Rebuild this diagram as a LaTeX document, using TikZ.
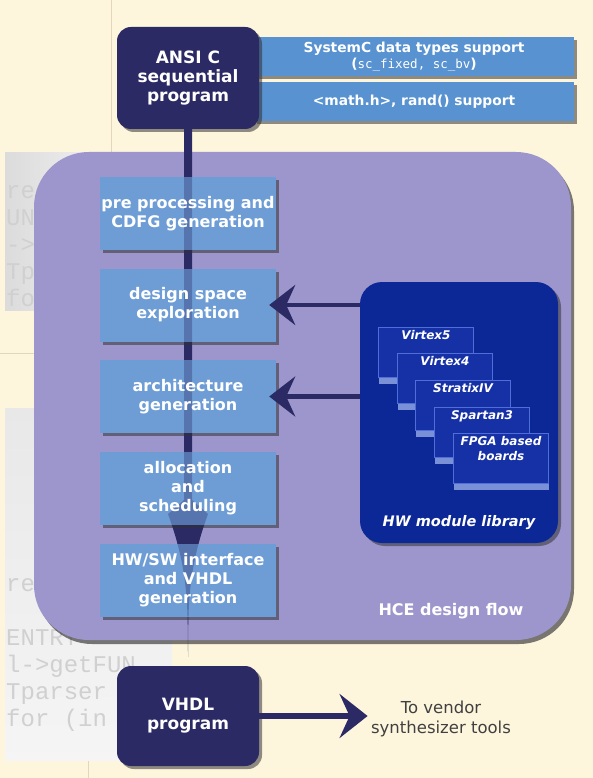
\documentclass[tikz,border=0pt]{standalone}
\usepackage{fontspec}
\setmainfont{DejaVu Sans}
\setmonofont{DejaVu Sans Mono}
\newfontfamily\codefont{Liberation Mono}
\usetikzlibrary{positioning, shadows, arrows.meta}

\definecolor{cream}{RGB}{253,246,221}
\definecolor{pagelines}{RGB}{224,215,190}
\definecolor{codegray}{RGB}{208,208,208}
\definecolor{navy}{RGB}{44,42,100}
\definecolor{stripblue}{RGB}{88,146,208}
\definecolor{flowblue}{RGB}{110,157,214}
\definecolor{hcepurple}{RGB}{157,150,204}
\definecolor{libblue}{RGB}{12,40,150}
\definecolor{cardblue}{RGB}{22,48,165}
\definecolor{cardrim}{RGB}{80,110,215}
\definecolor{cardglow}{RGB}{150,170,232}

% flow line and its head, from the C program down to the VHDL program
\newcommand\flowshape{([xshift=-4pt]ftop) -- ([xshift=-4pt]hback) -- (hleft)
	to[out=-70, in=90] (htip) to[out=90, in=-110] (hright)
	-- ([xshift=4pt]hback) -- ([xshift=4pt]ftop) -- cycle}

\begin{document}
\begin{tikzpicture}[x=1pt, y=-1pt,
		every node/.style={align=center, text=white, font=\bfseries},
		boxshadow/.style={drop shadow={shadow xshift=3pt, shadow yshift=-3pt, opacity=.55, fill=black!80}},
		codetext/.style={anchor=north west, inner sep=0pt, align=left, text=codegray, font=\codefont\fontsize{24}{27}\selectfont},
		hcebox/.style={fill=hcepurple, rounded corners=55pt, minimum width=537pt, minimum height=488pt,
			drop shadow={shadow xshift=3pt, shadow yshift=-4pt, opacity=.7, fill=black!75}},
		darkbox/.style={fill=navy, rounded corners=14pt, minimum width=142pt, minimum height=102pt,
			font=\fontsize{17}{19}\selectfont\bfseries, boxshadow},
		strip/.style={fill=stripblue, minimum width=320pt, minimum height=39pt, inner sep=1pt,
			font=\fontsize{13.8}{15.5}\selectfont\bfseries, boxshadow},
		flowbox/.style={fill=flowblue, minimum width=176pt, minimum height=73pt, inner xsep=1pt,
			font=\fontsize{16}{19}\selectfont\bfseries, boxshadow,
			path picture={\fill[navy, opacity=.35] \flowshape;}},
		libbox/.style={fill=libblue, rounded corners=22pt, minimum width=198pt, minimum height=261pt, boxshadow},
		card/.style={anchor=north west, fill=cardblue, draw=cardrim, line width=1pt, minimum width=95pt, minimum height=50pt,
			drop shadow={shadow xshift=0pt, shadow yshift=-6pt, opacity=.8, fill=cardglow}},
		cardtext/.style={anchor=north, inner sep=3pt, font=\fontsize{12}{15}\selectfont\bfseries\itshape},
		libarrow/.style={draw=navy, line width=4.5pt, -{Stealth[length=26pt, width=40pt, inset=9pt]}}]

	\useasboundingbox (0,0) rectangle (593,778);
	% Page
	\fill[cream] (0,0) rectangle (593,778);
	\draw[pagelines] (111,0) -- (111,152);
	\draw[pagelines] (0,353) -- (40,353);
	\draw[pagelines] (88,760) -- (88,778);
	% Code panels behind
	\begin{scope}
		\clip (5,153) rectangle (150,310);
		\fill[left color=black!14, right color=black!2] (5,153) rectangle (150,310);
		\node[codetext] (codetop) at (6,185) {rec\\UNC\\->g\\Tpa\\for};
	\end{scope}
	\begin{scope}
		\clip (5,408) rectangle (172,760);
		\fill[top color=black!9, bottom color=black!4] (5,408) rectangle (172,760);
		\node[codetext] (codebot) at (6,578) {rec\\[27pt]ENTRY\\l->getFUN\\Tparser\\for (in};
	\end{scope}

	% HCE design flow
	\node[hcebox] (hce) at (302.5,396) {};
	% Input
	\node[strip] (sctypes) at (414,56.5) {SystemC data types support\\(\texttt{\mdseries\fontsize{12.5}{15}\selectfont sc\_fixed, sc\_bv})};
	\node[strip] (mathsup) at (414,102) {<math.h>, rand() support};
	\node[darkbox] (ansi) at (188,78) {ANSI C\\sequential\\program};
	% Output
	\node[darkbox, minimum height=100pt] (vhdl) at (188,716) {VHDL\\program};

	% Flow line
	\coordinate (ftop) at (ansi.south);
	\coordinate (hback) at (188,500);
	\coordinate (hleft) at (168,514);
	\coordinate (hright) at (208,514);
	\coordinate (htip) at ([yshift=9pt]vhdl.north);
	\fill[navy] \flowshape;

	% Steps
	\node[flowbox] (prep)  at (188,213.5) {pre processing and\\CDFG generation};
	\node[flowbox] (dse)   at (188,305)   {design space\\exploration};
	\node[flowbox] (arch)  at (188,396.5) {architecture\\generation};
	\node[flowbox] (alloc) at (188,488.5) {allocation\\and\\scheduling};
	\node[flowbox] (hwsw)  at (188,580)   {HW/SW interface\\and VHDL\\generation};

	% HW module library
	\node[libbox] (lib) at (459,412.5) {};
	\node[card, label={[cardtext]north:Virtex5}]   (virtex5)  at (378,327) {};
	\node[card, label={[cardtext]north:Virtex4}]   (virtex4)  at (397,353) {};
	\node[card, label={[cardtext]north:StratixIV}] (stratix4) at (415,380) {};
	\node[card, label={[cardtext]north:Spartan3}]  (spartan3) at (434,407) {};
	\node[card, label={[cardtext, align=center]north:FPGA based\\boards}] (fpga) at (453,433) {};
	\node[font=\fontsize{14.5}{17}\selectfont\bfseries\itshape] (libname) at (459,523) {HW module library};

	% Arrows library -> steps
	\draw[libarrow] (lib.west |- dse) -- ([xshift=-7pt]dse.east);
	\draw[libarrow] (lib.west |- arch) -- ([xshift=-7pt]arch.east);

	\node[font=\fontsize{16}{19}\selectfont\bfseries] (hcename) at (451,611) {HCE design flow};

	% To vendor tools
	\node[text=black!75, font=\fontsize{16.5}{20}\selectfont] (vendor) at (441,719) {To vendor\\synthesizer tools};
	\draw[libarrow, line width=6pt, -{Stealth[length=28pt, width=44pt, inset=10pt]}] (vhdl.east) -- (vhdl.east -| vendor.west);
\end{tikzpicture}
\end{document}
